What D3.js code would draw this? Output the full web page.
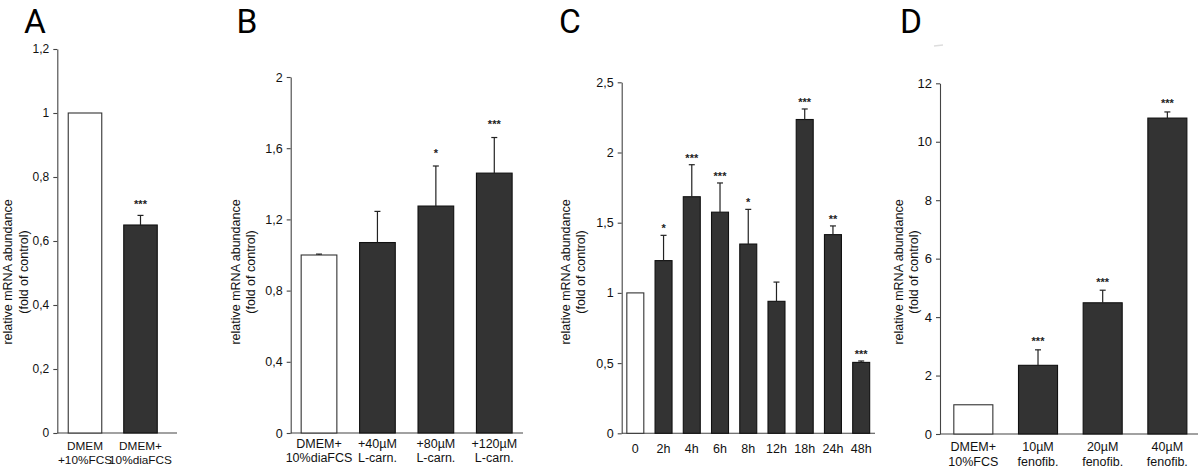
<!DOCTYPE html>
<html>
<head>
<meta charset="utf-8">
<script src="https://cdn.jsdelivr.net/npm/d3@7"></script>
<style>
  html, body { margin: 0; padding: 0; background: #fff; }
  svg { display: block; }
  text { font-family: "Liberation Sans", Arial, sans-serif; fill: #111; }
</style>
</head>
<body>
<svg id="chart" width="1200" height="471"></svg>
<script>
// ---------------- DATA ----------------
const catsA = ["DMEM\n+10%FCS", "DMEM+\n10%diaFCS"];
const valuesA = [1.0, 0.65];
const errorsA = [0, 0.03];
const sigA = ["", "***"];
const ticksA = [0, 0.2, 0.4, 0.6, 0.8, 1, 1.2];
const tickLabelsA = ["0", "0,2", "0,4", "0,6", "0,8", "1", "1,2"];

const catsB = ["DMEM+\n10%diaFCS", "+40µM\nL-carn.", "+80µM\nL-carn.", "+120µM\nL-carn."];
const valuesB = [1.0, 1.07, 1.275, 1.46];
const errorsB = [0.005, 0.175, 0.225, 0.2];
const sigB = ["", "", "*", "***"];
const ticksB = [0, 0.4, 0.8, 1.2, 1.6, 2];
const tickLabelsB = ["0", "0,4", "0,8", "1,2", "1,6", "2"];

const catsC = ["0", "2h", "4h", "6h", "8h", "12h", "18h", "24h", "48h"];
const valuesC = [1.0, 1.23, 1.685, 1.575, 1.348, 0.94, 2.235, 1.415, 0.505];
const errorsC = [0, 0.18, 0.228, 0.208, 0.247, 0.137, 0.075, 0.062, 0.01];
const sigC = ["", "*", "***", "***", "*", "", "***", "**", "***"];
const ticksC = [0, 0.5, 1, 1.5, 2, 2.5];
const tickLabelsC = ["0", "0,5", "1", "1,5", "2", "2,5"];

const catsD = ["DMEM+\n10%FCS", "10µM\nfenofib.", "20µM\nfenofib.", "40µM\nfenofib."];
const valuesD = [1.0, 2.35, 4.49, 10.81];
const errorsD = [0, 0.53, 0.43, 0.21];
const sigD = ["", "***", "***", "***"];
const ticksD = [0, 2, 4, 6, 8, 10, 12];
const tickLabelsD = ["0", "2", "4", "6", "8", "10", "12"];

const panelLetters = ["A", "B", "C", "D"];
const yTitle1 = "relative mRNA abundance";
const yTitle2 = "(fold of control)";

// ---------------- LAYOUT / STYLE ----------------
const layouts = [
  { axisX: 57.3, xEnd: 177, xr: [57.25, 168.25], pad: 0.378, y0: 433, y1: 49, max: 1.2,
    letterX: 35, t1: 12, t2: 28, tickFont: 12, labFont: 11.8, labY: 449.5, starOff: 14 },
  { axisX: 290.7, xEnd: 523, xr: [289.8, 523.5], pad: 0.372, y0: 433, y1: 77, max: 2,
    letterX: 247, t1: 239.5, t2: 254.5, tickFont: 12.5, labFont: 12.5, labY: 447.5, starOff: 16 },
  { axisX: 621.7, xEnd: 875, xr: [621.2, 875.3], pad: 0.363, y0: 433.3, y1: 82.3, max: 2.5,
    letterX: 570, t1: 570, t2: 585, tickFont: 12.5, labFont: 12.5, labY: 452.5, starOff: 9.5 },
  { axisX: 940, xEnd: 1198, xr: [941, 1199.7], pad: 0.381, y0: 434, y1: 83.3, max: 12,
    letterX: 911, t1: 903, t2: 917.5, tickFont: 13, labFont: 12.5, labY: 451, starOff: 11 }
];

const panels = [
  { cats: catsA, vals: valuesA, errs: errorsA, sig: sigA, ticks: ticksA, tl: tickLabelsA },
  { cats: catsB, vals: valuesB, errs: errorsB, sig: sigB, ticks: ticksB, tl: tickLabelsB },
  { cats: catsC, vals: valuesC, errs: errorsC, sig: sigC, ticks: ticksC, tl: tickLabelsC },
  { cats: catsD, vals: valuesD, errs: errorsD, sig: sigD, ticks: ticksD, tl: tickLabelsD }
];

const svg = d3.select("#chart");
const axisColor = "#444";
const darkFill = "#333333";

panels.forEach((p, i) => {
  const L = layouts[i];
  const g = svg.append("g");
  const x = d3.scaleBand().domain(p.cats).range(L.xr).paddingInner(L.pad).paddingOuter(L.pad / 2);
  const y = d3.scaleLinear().domain([0, L.max]).range([L.y0, L.y1]);

  // panel letter
  g.append("text").attr("x", L.letterX).attr("y", 32.5).attr("text-anchor", "middle")
    .style("font-family", "Roboto, 'Open Sans', sans-serif")
    .style("font-size", "33.5px").style("fill", "#000").text(panelLetters[i]);

  // y axis
  const yAxis = d3.axisLeft(y).tickValues(p.ticks)
    .tickFormat((d, k) => p.tl[k]).tickSize(4).tickSizeOuter(0).tickPadding(4);
  const ga = g.append("g").attr("transform", `translate(${L.axisX},0)`).call(yAxis);
  ga.select(".domain").attr("stroke", axisColor).attr("stroke-width", 1.1);
  ga.selectAll(".tick line").attr("stroke", axisColor).attr("stroke-width", 1.1);
  ga.selectAll(".tick text").style("font-size", L.tickFont + "px")
    .style("font-family", "'Liberation Sans', Arial, sans-serif").attr("fill", "#111");

  // x axis line
  g.append("line").attr("x1", L.axisX).attr("x2", L.xEnd)
    .attr("y1", y(0)).attr("y2", y(0)).attr("stroke", axisColor).attr("stroke-width", 1.1);

  // bars
  const data = p.cats.map((c, k) => ({ c, v: p.vals[k], e: p.errs[k], s: p.sig[k], k }));
  g.selectAll("rect.bar").data(data).enter().append("rect").attr("class", "bar")
    .attr("x", d => x(d.c) + 0.5).attr("width", x.bandwidth() - 1)
    .attr("y", d => y(d.v)).attr("height", d => y(0) - y(d.v))
    .attr("fill", d => d.k === 0 ? "#fff" : darkFill)
    .attr("stroke", d => d.k === 0 ? "#333" : "#111").attr("stroke-width", 1.1);

  // error bars (upward only)
  const eb = data.filter(d => d.e > 0);
  g.selectAll("line.err").data(eb).enter().append("line")
    .attr("x1", d => x(d.c) + x.bandwidth() / 2).attr("x2", d => x(d.c) + x.bandwidth() / 2)
    .attr("y1", d => y(d.v)).attr("y2", d => y(d.v + d.e))
    .attr("stroke", "#222").attr("stroke-width", 1.2);
  g.selectAll("line.cap").data(eb).enter().append("line")
    .attr("x1", d => x(d.c) + x.bandwidth() / 2 - 3).attr("x2", d => x(d.c) + x.bandwidth() / 2 + 3)
    .attr("y1", d => y(d.v + d.e)).attr("y2", d => y(d.v + d.e))
    .attr("stroke", "#222").attr("stroke-width", 1.2);

  // significance stars
  g.selectAll("text.sig").data(data.filter(d => d.s)).enter().append("text")
    .attr("x", d => x(d.c) + x.bandwidth() / 2)
    .attr("y", d => y(d.v + d.e) - L.starOff + 6.5)
    .attr("text-anchor", "middle").style("font-size", "11px").style("font-weight", "bold")
    .style("fill", "#222").text(d => d.s);

  // x labels
  data.forEach(d => {
    const lines = d.c.split("\n");
    const t = g.append("text").attr("text-anchor", "middle")
      .style("font-size", L.labFont + "px")
      .attr("x", x(d.c) + x.bandwidth() / 2).attr("y", L.labY);
    lines.forEach((ln, j) => {
      t.append("tspan").attr("x", x(d.c) + x.bandwidth() / 2)
        .attr("dy", j === 0 ? 0 : 14.5).text(ln);
    });
  });

  // y title (two lines rotated)
  const cy = 272;
  g.append("text").attr("transform", `translate(${L.t1},${cy}) rotate(-90)`)
    .attr("text-anchor", "middle").style("font-size", "12.5px").text(yTitle1);
  g.append("text").attr("transform", `translate(${L.t2},${cy}) rotate(-90)`)
    .attr("text-anchor", "middle").style("font-size", "12.5px").text(yTitle2);
});

// faint scan artifact near panel D
svg.append("line").attr("x1", 934).attr("x2", 943).attr("y1", 46).attr("y2", 45)
  .attr("stroke", "#ddd").attr("stroke-width", 1.5);
</script>
</body>
</html>
